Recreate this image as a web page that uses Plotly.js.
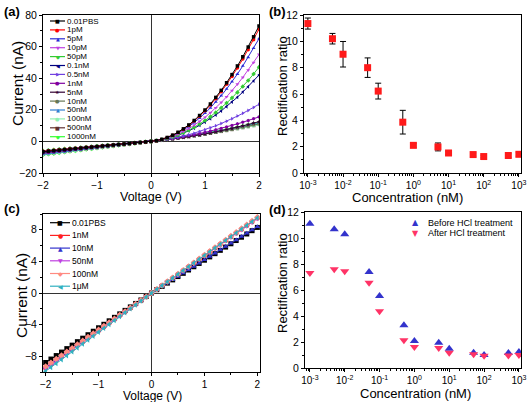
<!DOCTYPE html>
<html><head><meta charset="utf-8">
<script src="https://cdn.plot.ly/plotly-3.0.1.min.js"></script>
<style>html,body{margin:0;padding:0;background:#fff}#chart{width:529px;height:402px}</style>
</head><body><div id="chart"></div>
<script>
// ---------- shared voltage axis (V) ----------
const voltage = [-2,-1.9,-1.8,-1.7,-1.6,-1.5,-1.4,-1.3,-1.2,-1.1,-1,-0.9,-0.8,-0.7,-0.6,-0.5,-0.4,-0.3,-0.2,-0.1,0,0.1,0.2,0.3,0.4,0.5,0.6,0.7,0.8,0.9,1,1.1,1.2,1.3,1.4,1.5,1.6,1.7,1.8,1.9,2];

// ---------- panel (a): I-V curves (nA) ----------
const namesA = ['0.01PBS','1pM','5pM','10pM','50pM','0.1nM','0.5nM','1nM','5nM','10nM','50nM','100nM','500nM','1000nM'];
const a_PBS = [-6.50,-6.18,-5.85,-5.53,-5.20,-4.88,-4.55,-4.23,-3.90,-3.58,-3.25,-2.93,-2.60,-2.28,-1.95,-1.63,-1.30,-0.98,-0.65,-0.33,0,0.49,1.32,2.47,3.96,5.78,7.94,10.42,13.24,16.39,19.88,23.69,27.84,32.32,37.14,42.28,47.76,53.57,59.72,66.19,73.00];
const a_1pM = [-6.30,-5.99,-5.67,-5.36,-5.04,-4.73,-4.41,-4.10,-3.78,-3.47,-3.15,-2.84,-2.52,-2.21,-1.89,-1.58,-1.26,-0.95,-0.63,-0.32,0,0.48,1.28,2.40,3.85,5.62,7.71,10.13,12.87,15.94,19.33,23.04,27.07,31.43,36.11,41.12,46.45,52.10,58.08,64.38,71.00];
const a_5pM = [-6.40,-6.08,-5.76,-5.44,-5.12,-4.80,-4.48,-4.16,-3.84,-3.52,-3.20,-2.88,-2.56,-2.24,-1.92,-1.60,-1.28,-0.96,-0.64,-0.32,0,0.47,1.23,2.28,3.62,5.26,7.19,9.42,11.94,14.75,17.85,21.25,24.94,28.92,33.19,37.76,42.62,47.78,53.23,58.97,65.00];
const a_10pM = [-6.10,-5.80,-5.49,-5.19,-4.88,-4.58,-4.27,-3.97,-3.66,-3.36,-3.05,-2.75,-2.44,-2.14,-1.83,-1.53,-1.22,-0.92,-0.61,-0.31,0,0.43,1.10,2.02,3.18,4.58,6.23,8.13,10.26,12.65,15.28,18.15,21.26,24.63,28.23,32.08,36.18,40.52,45.10,49.93,55.00];
const a_50pM = [-5.90,-5.61,-5.31,-5.02,-4.72,-4.43,-4.13,-3.84,-3.54,-3.25,-2.95,-2.66,-2.36,-2.07,-1.77,-1.48,-1.18,-0.89,-0.59,-0.30,0,0.40,1.00,1.81,2.82,4.04,5.47,7.10,8.94,10.98,13.23,15.68,18.34,21.20,24.27,27.54,31.02,34.71,38.60,42.70,47.00];
const a_01nM = [-6.80,-6.46,-6.12,-5.78,-5.44,-5.10,-4.76,-4.42,-4.08,-3.74,-3.40,-3.06,-2.72,-2.38,-2.04,-1.70,-1.36,-1.02,-0.68,-0.34,0,0.43,1.03,1.81,2.77,3.90,5.21,6.69,8.35,10.19,12.20,14.39,16.75,19.29,22.01,24.90,27.97,31.21,34.63,38.23,42.00];
const a_05nM = [-6.00,-5.70,-5.40,-5.10,-4.80,-4.50,-4.20,-3.90,-3.60,-3.30,-3.00,-2.70,-2.40,-2.10,-1.80,-1.50,-1.20,-0.90,-0.60,-0.30,0,0.35,0.78,1.31,1.92,2.61,3.40,4.27,5.22,6.27,7.40,8.62,9.92,11.32,12.80,14.36,16.02,17.76,19.58,21.50,23.50];
const a_1nM = [-7.40,-7.03,-6.66,-6.29,-5.92,-5.55,-5.18,-4.81,-4.44,-4.07,-3.70,-3.33,-2.96,-2.59,-2.22,-1.85,-1.48,-1.11,-0.74,-0.37,0,0.39,0.82,1.29,1.80,2.36,2.95,3.58,4.26,4.97,5.73,6.52,7.36,8.23,9.15,10.11,11.10,12.14,13.22,14.34,15.50];
const a_5nM = [-6.25,-5.94,-5.63,-5.31,-5.00,-4.69,-4.38,-4.06,-3.75,-3.44,-3.13,-2.81,-2.50,-2.19,-1.88,-1.56,-1.25,-0.94,-0.63,-0.31,0,0.33,0.69,1.08,1.50,1.95,2.44,2.95,3.50,4.08,4.69,5.33,6.00,6.70,7.44,8.20,9.00,9.83,10.69,11.58,12.50];
const a_10nM = [-7.30,-6.94,-6.57,-6.21,-5.84,-5.48,-5.11,-4.75,-4.38,-4.02,-3.65,-3.29,-2.92,-2.56,-2.19,-1.83,-1.46,-1.10,-0.73,-0.37,0,0.37,0.77,1.18,1.61,2.06,2.52,3.01,3.51,4.03,4.58,5.13,5.71,6.31,6.92,7.56,8.21,8.88,9.57,10.27,11.00];
const a_50nM = [-8.20,-7.79,-7.38,-6.97,-6.56,-6.15,-5.74,-5.33,-4.92,-4.51,-4.10,-3.69,-3.28,-2.87,-2.46,-2.05,-1.64,-1.23,-0.82,-0.41,0,0.42,0.85,1.30,1.77,2.26,2.76,3.27,3.81,4.36,4.93,5.51,6.11,6.72,7.36,8.01,8.67,9.35,10.05,10.77,11.50];
const a_100nM = [-8.40,-7.98,-7.56,-7.14,-6.72,-6.30,-5.88,-5.46,-5.04,-4.62,-4.20,-3.78,-3.36,-2.94,-2.52,-2.10,-1.68,-1.26,-0.84,-0.42,0,0.43,0.86,1.31,1.76,2.23,2.71,3.20,3.70,4.21,4.73,5.26,5.80,6.35,6.91,7.48,8.06,8.66,9.26,9.88,10.50];
const a_500nM = [-8.00,-7.60,-7.20,-6.80,-6.40,-6.00,-5.60,-5.20,-4.80,-4.40,-4.00,-3.60,-3.20,-2.80,-2.40,-2.00,-1.60,-1.20,-0.80,-0.40,0,0.41,0.83,1.26,1.71,2.18,2.65,3.14,3.65,4.17,4.70,5.25,5.81,6.38,6.97,7.58,8.19,8.82,9.47,10.13,10.80];
const a_1000nM = [-8.60,-8.17,-7.74,-7.31,-6.88,-6.45,-6.02,-5.59,-5.16,-4.73,-4.30,-3.87,-3.44,-3.01,-2.58,-2.15,-1.72,-1.29,-0.86,-0.43,0,0.44,0.89,1.37,1.86,2.36,2.89,3.43,3.98,4.56,5.15,5.76,6.38,7.03,7.69,8.36,9.06,9.77,10.49,11.24,12.00];
const seriesA = [a_PBS,a_1pM,a_5pM,a_10pM,a_50pM,a_01nM,a_05nM,a_1nM,a_5nM,a_10nM,a_50nM,a_100nM,a_500nM,a_1000nM];
const colorsA = ['#000000','#ff0000','#2b2bd6','#c040e0','#33cc33','#000080','#7040e0','#8000a0','#330033','#667755','#2f7fd0','#90f0b0','#603030','#33ff33'];
const symbolsA = ['square','circle','triangle-up','triangle-down','diamond','triangle-left','triangle-right','hexagon','star','pentagon','triangle-up','circle','square','diamond'];

// ---------- panel (b): rectification ratio vs concentration ----------
const concentration = [0.001,0.005,0.01,0.05,0.1,0.5,1,5,10,50,100,500,1000];
const ratioB = [11.35,10.2,9.02,8.0,6.22,3.86,2.1,1.98,1.52,1.40,1.25,1.33,1.42];
const errB = [0.42,0.4,0.97,0.74,0.6,0.9,0.15,0.3,0.13,0.12,0.1,0.13,0.15];

// ---------- panel (c): I-V curves after treatment (nA) ----------
const namesC = ['0.01PBS','1nM','10nM','50nM','100nM','1\u03bcM'];
const c_PBS = [-8.80,-8.36,-7.92,-7.48,-7.04,-6.60,-6.16,-5.72,-5.28,-4.84,-4.40,-3.96,-3.52,-3.08,-2.64,-2.20,-1.76,-1.32,-0.88,-0.44,0,0.42,0.83,1.25,1.66,2.08,2.49,2.91,3.32,3.74,4.15,4.57,4.98,5.40,5.81,6.23,6.64,7.06,7.47,7.89,8.30];
const c_1nM = [-9.50,-9.03,-8.55,-8.08,-7.60,-7.13,-6.65,-6.18,-5.70,-5.23,-4.75,-4.28,-3.80,-3.33,-2.85,-2.38,-1.90,-1.43,-0.95,-0.48,0,0.48,0.95,1.43,1.90,2.38,2.85,3.33,3.80,4.28,4.75,5.23,5.70,6.18,6.65,7.13,7.60,8.08,8.55,9.03,9.50];
const c_10nM = [-9.40,-8.93,-8.46,-7.99,-7.52,-7.05,-6.58,-6.11,-5.64,-5.17,-4.70,-4.23,-3.76,-3.29,-2.82,-2.35,-1.88,-1.41,-0.94,-0.47,0,0.42,0.84,1.26,1.68,2.10,2.52,2.94,3.36,3.78,4.20,4.62,5.04,5.46,5.88,6.30,6.72,7.14,7.56,7.98,8.40];
const c_50nM = [-9.60,-9.12,-8.64,-8.16,-7.68,-7.20,-6.72,-6.24,-5.76,-5.28,-4.80,-4.32,-3.84,-3.36,-2.88,-2.40,-1.92,-1.44,-0.96,-0.48,0,0.47,0.94,1.41,1.88,2.35,2.82,3.29,3.76,4.23,4.70,5.17,5.64,6.11,6.58,7.05,7.52,7.99,8.46,8.93,9.40];
const c_100nM = [-9.30,-8.84,-8.37,-7.91,-7.44,-6.98,-6.51,-6.05,-5.58,-5.12,-4.65,-4.19,-3.72,-3.26,-2.79,-2.33,-1.86,-1.40,-0.93,-0.47,0,0.48,0.96,1.44,1.92,2.40,2.88,3.36,3.84,4.32,4.80,5.28,5.76,6.24,6.72,7.20,7.68,8.16,8.64,9.12,9.60];
const c_1uM = [-9.90,-9.41,-8.91,-8.42,-7.92,-7.43,-6.93,-6.44,-5.94,-5.45,-4.95,-4.46,-3.96,-3.47,-2.97,-2.48,-1.98,-1.49,-0.99,-0.50,0,0.48,0.95,1.43,1.90,2.38,2.85,3.33,3.80,4.28,4.75,5.23,5.70,6.18,6.65,7.13,7.60,8.08,8.55,9.03,9.50];
const seriesC = [c_PBS,c_1nM,c_10nM,c_50nM,c_100nM,c_1uM];
const colorsC = ['#000000','#ff2020','#3333cc','#c040e0','#ff8a80','#30b0c0'];
const symbolsC = ['square','circle','triangle-up','triangle-down','diamond','triangle-left'];

// ---------- panel (d): before / after HCl treatment ----------
const namesD = ['Before HCl treatment','After HCl treatment'];
const ratioBefore = [11.1,10.67,10.28,7.38,5.54,3.28,2.08,1.95,1.49,1.18,1.0,1.15,1.23];
const ratioAfter = [7.31,7.59,7.44,6.56,4.36,2.13,1.62,1.54,1.18,1.05,0.95,0.97,1.0];
const colorsD = ['#3333cc','#ff3366'];
const symbolsD = ['triangle-up','triangle-down'];

// ---------- tick labels ----------
const logTickVals = [0.001,0.01,0.1,1,10,100,1000];
const logTickText = ['10<sup>-3</sup>','10<sup>-2</sup>','10<sup>-1</sup>','10<sup>0</sup>','10<sup>1</sup>','10<sup>2</sup>','10<sup>3</sup>'];

const FONT = 'Liberation Sans, Arial, sans-serif';
const W = 529, H = 402;
const px = x => x / W, py = y => 1 - y / H;

function ax(extra) {
  return Object.assign({
    showline: true, linecolor: '#000', linewidth: 1, mirror: true,
    ticks: 'outside', ticklen: 3, tickwidth: 1, tickcolor: '#000',
    showgrid: false, zeroline: false, automargin: false,
    tickfont: {family: FONT, size: 10.5, color: '#000'}
  }, extra);
}

const traces = [];
// panel a (draw low curves first so the steep curves overlay)
for (let i = seriesA.length - 1; i >= 0; i--) {
  traces.push({x: voltage, y: seriesA[i], xaxis: 'x', yaxis: 'y', type: 'scatter', mode: 'lines+markers',
    name: namesA[i], showlegend: false,
    line: {color: colorsA[i], width: 1}, marker: {color: colorsA[i], symbol: symbolsA[i], size: 3.5}});
}
// panel b
traces.push({x: concentration, y: ratioB, xaxis: 'x2', yaxis: 'y2', type: 'scatter', mode: 'markers', showlegend: false,
  marker: {color: '#ff1a1a', symbol: 'square', size: 7},
  error_y: {type: 'data', array: errB, visible: true, color: '#000', thickness: 1, width: 3}});
// panel c
for (let i = 0; i < seriesC.length; i++) {
  traces.push({x: voltage, y: seriesC[i], xaxis: 'x3', yaxis: 'y3', type: 'scatter', mode: 'lines+markers',
    name: namesC[i], showlegend: false,
    line: {color: colorsC[i], width: 1}, marker: {color: colorsC[i], symbol: symbolsC[i], size: 5}});
}
// panel d
[ratioBefore, ratioAfter].forEach((arr, i) => {
  traces.push({x: concentration, y: arr, xaxis: 'x4', yaxis: 'y4', type: 'scatter', mode: 'markers', showlegend: false,
    name: namesD[i], marker: {color: colorsD[i], symbol: symbolsD[i], size: 8}});
});

// custom compact legends
const glyph = {'square':'\u25A0','circle':'\u25CF','triangle-up':'\u25B2','triangle-down':'\u25BC','diamond':'\u25C6',
  'triangle-left':'\u25C0','triangle-right':'\u25B6','hexagon':'\u25CF','star':'\u2605','pentagon':'\u25CF'};
const shapes = [];
const annotations = [];
function addLegend(names, colors, symbols, x0, x1, xt, y0, dy, fs, gs, withLine) {
  names.forEach((n, i) => {
    const y = y0 + i * dy;
    if (withLine) {
      shapes.push({type: 'line', xref: 'paper', yref: 'paper', x0: px(x0), x1: px(x1), y0: py(y), y1: py(y),
        line: {color: colors[i], width: 1.2}});
    }
    annotations.push({xref: 'paper', yref: 'paper', x: px((x0 + x1) / 2), y: py(y), text: glyph[symbols[i]],
      showarrow: false, xanchor: 'center', yanchor: 'middle', borderpad: 0, font: {family: 'DejaVu Sans', size: gs, color: colors[i]}});
    annotations.push({xref: 'paper', yref: 'paper', x: px(xt), y: py(y), text: n, showarrow: false, borderpad: 0,
      xanchor: 'left', yanchor: 'middle', font: {family: FONT, size: fs, color: '#000'}});
  });
}
addLegend(namesA, colorsA, symbolsA, 50, 65, 66, 21, 8.9, 8, 5, true);
addLegend(namesC, colorsC, symbolsC, 50, 70, 71, 222.7, 12.7, 8.5, 6, true);
addLegend(namesD, colorsD, symbolsD, 411, 420, 427, 222.7, 10.7, 9, 8, false);

// panel labels
[['(a)', 3, 11], ['(b)', 268, 11], ['(c)', 3, 208], ['(d)', 268, 210]].forEach(([t, x, y]) => {
  annotations.push({xref: 'paper', yref: 'paper', x: px(x), y: py(y), text: '<b>' + t + '</b>', showarrow: false,
    xanchor: 'left', yanchor: 'middle', borderpad: 0, font: {family: FONT, size: 13, color: '#000'}});
});

// axis titles (placed as text at measured positions)
const axisTitles = [
  ['Voltage (V)', 151, 196.5, 0, 12.5],
  ['Current (nA)', 18, 84, -90, 15.5],
  ['Concentration (nM)', 407, 197, 0, 13],
  ['Rectification ratio', 282, 86, -90, 13],
  ['Voltage (V)', 152, 395.5, 0, 12],
  ['Current (nA)', 21, 296, -90, 15.5],
  ['Concentration (nM)', 415, 393.5, 0, 13],
  ['Rectification ratio', 282, 283, -90, 13]
];
axisTitles.forEach(([t, x, y, ang, fs]) => {
  annotations.push({xref: 'paper', yref: 'paper', x: px(x), y: py(y), text: t, showarrow: false, textangle: ang,
    xanchor: 'center', yanchor: 'middle', borderpad: 0, font: {family: FONT, size: fs, color: '#000'}});
});

const minorLin = d => ({dtick: d, ticks: 'outside', ticklen: 2, tickcolor: '#000'});
const tick10 = {family: FONT, size: 10, color: '#000'};
const layout = {
  width: W, height: H, margin: {l: 0, r: 0, t: 0, b: 0},
  paper_bgcolor: '#fff', plot_bgcolor: '#fff', showlegend: false,
  font: {family: FONT, color: '#000'},
  xaxis: ax({domain: [px(43), px(259)], anchor: 'y', range: [-2, 2], dtick: 1, tickfont: tick10, zeroline: true, zerolinecolor: '#333', zerolinewidth: 1, minor: minorLin(0.5)}),
  yaxis: ax({domain: [py(173), py(15)], anchor: 'x', range: [-20, 80], dtick: 20, zeroline: true, zerolinecolor: '#333', zerolinewidth: 1, minor: minorLin(10)}),
  xaxis2: ax({domain: [px(304), px(521)], anchor: 'y2', type: 'log', range: [-3.11, 3.06], tickmode: 'array', tickvals: logTickVals, ticktext: logTickText,
    tickfont: tick10, minor: {dtick: 'D1', ticks: 'outside', ticklen: 2, tickcolor: '#000'}}),
  yaxis2: ax({domain: [py(173), py(15)], anchor: 'x2', range: [0, 12], dtick: 2, minor: minorLin(1)}),
  xaxis3: ax({domain: [px(43), px(260)], anchor: 'y3', range: [-2.05, 2.05], dtick: 1, tickfont: tick10, zeroline: true, zerolinecolor: '#333', zerolinewidth: 1, minor: minorLin(0.5)}),
  yaxis3: ax({domain: [py(372), py(214)], anchor: 'x3', range: [-10, 10], dtick: 4, tick0: 0, zeroline: true, zerolinecolor: '#333', zerolinewidth: 1, minor: minorLin(2)}),
  xaxis4: ax({domain: [px(305), px(521)], anchor: 'y4', type: 'log', range: [-3.14, 3.06], tickmode: 'array', tickvals: logTickVals, ticktext: logTickText,
    tickfont: tick10, minor: {dtick: 'D1', ticks: 'outside', ticklen: 2, tickcolor: '#000'}}),
  yaxis4: ax({domain: [py(368), py(212)], anchor: 'x4', range: [0, 12], dtick: 2, minor: minorLin(1)}),
  shapes: shapes,
  annotations: annotations
};

Plotly.newPlot('chart', traces, layout, {displayModeBar: false, staticPlot: true});
</script></body></html>
